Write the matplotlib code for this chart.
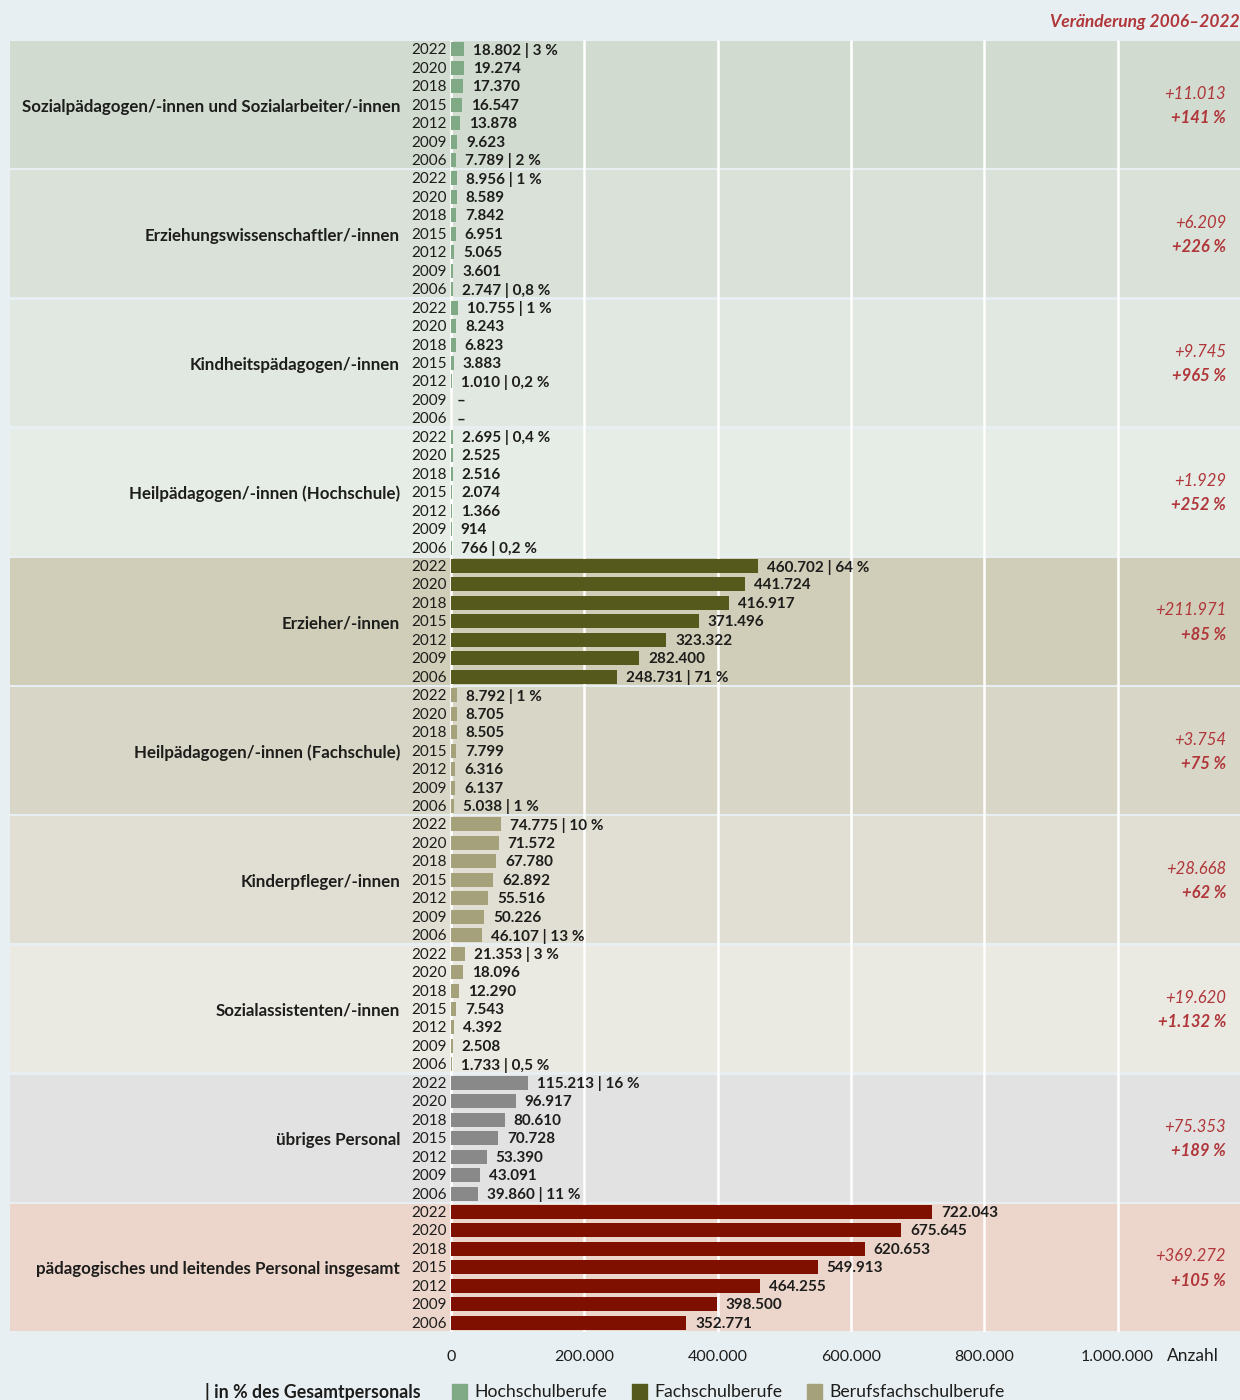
import matplotlib.pyplot as plt
from matplotlib import font_manager as fm
from matplotlib.patches import Rectangle
import matplotlib.transforms as mtransforms

# font: Lato is closest available to the original humanist sans
names = {f.name for f in fm.fontManager.ttflist}
plt.rcParams['font.family'] = ['Lato' if 'Lato' in names else 'DejaVu Sans']

# ---- data ----
years = ['2022', '2020', '2018', '2015', '2012', '2009', '2006']

categories = ['Sozialpädagogen/-innen und Sozialarbeiter/-innen',
              'Erziehungswissenschaftler/-innen',
              'Kindheitspädagogen/-innen',
              'Heilpädagogen/-innen (Hochschule)',
              'Erzieher/-innen',
              'Heilpädagogen/-innen (Fachschule)',
              'Kinderpfleger/-innen',
              'Sozialassistenten/-innen',
              'übriges Personal',
              'pädagogisches und leitendes Personal insgesamt']

sozialpaed = [18802, 19274, 17370, 16547, 13878, 9623, 7789]
erzwiss = [8956, 8589, 7842, 6951, 5065, 3601, 2747]
kindheitspaed = [10755, 8243, 6823, 3883, 1010, None, None]
heilpaed_hs = [2695, 2525, 2516, 2074, 1366, 914, 766]
erzieher = [460702, 441724, 416917, 371496, 323322, 282400, 248731]
heilpaed_fs = [8792, 8705, 8505, 7799, 6316, 6137, 5038]
kinderpfleger = [74775, 71572, 67780, 62892, 55516, 50226, 46107]
sozialassist = [21353, 18096, 12290, 7543, 4392, 2508, 1733]
uebrige = [115213, 96917, 80610, 70728, 53390, 43091, 39860]
insgesamt = [722043, 675645, 620653, 549913, 464255, 398500, 352771]

group_values = [sozialpaed, erzwiss, kindheitspaed, heilpaed_hs, erzieher,
                heilpaed_fs, kinderpfleger, sozialassist, uebrige, insgesamt]

# share of total staff, keyed by row index within the group
share_labels = [{0: '3 %', 6: '2 %'}, {0: '1 %', 6: '0,8 %'}, {0: '1 %', 4: '0,2 %'},
                {0: '0,4 %', 6: '0,2 %'}, {0: '64 %', 6: '71 %'}, {0: '1 %', 6: '1 %'},
                {0: '10 %', 6: '13 %'}, {0: '3 %', 6: '0,5 %'}, {0: '16 %', 6: '11 %'}, {}]

change_abs = ['+11.013', '+6.209', '+9.745', '+1.929', '+211.971',
              '+3.754', '+28.668', '+19.620', '+75.353', '+369.272']
change_pct = ['+141 %', '+226 %', '+965 %', '+252 %', '+85 %',
              '+75 %', '+62 %', '+1.132 %', '+189 %', '+105 %']

group_kind = ['hoch', 'hoch', 'hoch', 'hoch', 'fach', 'beruf', 'beruf', 'beruf', 'uebrig', 'gesamt']

# ---- styles ----
bar_colors = {'hoch': '#80a986', 'fach': '#555a1c', 'beruf': '#a5a17a',
              'uebrig': '#898989', 'gesamt': '#7f1000'}
band_colors = ['#d1dbd0', '#d9e1d8', '#e1e8e1', '#e6ece6', '#d0cdb8',
               '#d8d6c7', '#e1dfd3', '#eae9e2', '#e2e2e2', '#ecd6cc']
bg = '#e8eff2'
txt = '#1d1d1b'
red = '#b0363a'

fs_small = 11
fs_cat = 12.2

W, H = 1240, 1400
fig = plt.figure(figsize=(W / 100, H / 100), dpi=100, facecolor=bg)

# axes spans x=10..1240 px, y=40..1332 px; value 0 sits at x=451 px
x0_px, px_per_unit = 451, 133.3 / 200000
ax = fig.add_axes([10 / W, 1 - 1332 / H, 1230 / W, 1292 / H])
ax.set_facecolor(bg)
ax.set_xlim(-(x0_px - 10) / px_per_unit, (W - x0_px) / px_per_unit)
n_rows = 7 * len(categories)
ax.set_ylim(n_rows, 0)
for s in ax.spines.values():
    s.set_visible(False)

gap = 0.07
for g, col in enumerate(band_colors):
    ax.axhspan(g * 7 + gap, g * 7 + 7 - gap, color=col, lw=0, zorder=0)

ax.vlines([0, 200000, 400000, 600000, 800000, 1000000], 0, n_rows,
          color='white', lw=1.8, zorder=1)

blend = mtransforms.blended_transform_factory(ax.transAxes, ax.transData)

for g, vals in enumerate(group_values):
    color = bar_colors[group_kind[g]]
    for j, v in enumerate(vals):
        y = g * 7 + j + 0.5
        ax.annotate(years[j], (0, y), xytext=(-4, -1), textcoords='offset pixels',
                    ha='right', va='center', fontsize=fs_small, color=txt)
        if v is None:
            ax.annotate('–', (0, y), xytext=(6, -1), textcoords='offset pixels',
                        ha='left', va='center', fontsize=fs_small, color=txt,
                        fontweight='bold')
            continue
        ax.barh(y, v, height=0.76, color=color, lw=0, zorder=2)
        label = f'{v:,}'.replace(',', '.')
        if j in share_labels[g]:
            label += ' | ' + share_labels[g][j]
        ax.annotate(label, (v, y), xytext=(9, -1), textcoords='offset pixels',
                    ha='left', va='center', fontsize=fs_small, color=txt,
                    fontweight='bold')
    yc = g * 7 + 3.5
    ax.annotate(categories[g], (0, yc), xytext=(-51, -2), textcoords='offset pixels',
                ha='right', va='center', fontsize=fs_cat, color=txt, fontweight='bold')
    ax.text(1216 / 1230, yc - 0.6, change_abs[g], transform=blend, ha='right',
            va='center', fontsize=12, color=red, style='italic')
    ax.text(1216 / 1230, yc + 0.72, change_pct[g], transform=blend, ha='right',
            va='center', fontsize=12, color=red, style='italic', fontweight='bold')

ticks = [0, 200000, 400000, 600000, 800000, 1000000]
ax.set_xticks(ticks)
ax.set_xticklabels([f'{t:,}'.replace(',', '.') for t in ticks], fontsize=11.5, color=txt)
ax.set_yticks([])
ax.tick_params(axis='x', length=0, pad=13)

fig.text(1167 / W, 1 - 1356 / H, 'Anzahl', ha='left', va='center', fontsize=12.5, color=txt)
fig.text(1.0, 1 - 22 / H, 'Veränderung 2006–2022', ha='right', va='center',
         fontsize=12.5, color=red, style='italic', fontweight='bold')

# legend
ly = 1 - 1392 / H
fig.text(205 / W, ly, '| in % des Gesamtpersonals', ha='left', va='center',
         fontsize=12.8, color=txt, fontweight='bold')
legend_items = [('Hochschulberufe', 'hoch', 452), ('Fachschulberufe', 'fach', 632),
                ('Berufsfachschulberufe', 'beruf', 807)]
for name, kind, px in legend_items:
    fig.patches.append(Rectangle((px / W, 1 - 1399 / H), 15 / W, 15 / H,
                                 transform=fig.transFigure, color=bar_colors[kind]))
    fig.text((px + 22) / W, ly, name, ha='left', va='center', fontsize=12.7, color=txt)

fig.savefig('out.png', dpi=100, facecolor=bg)
